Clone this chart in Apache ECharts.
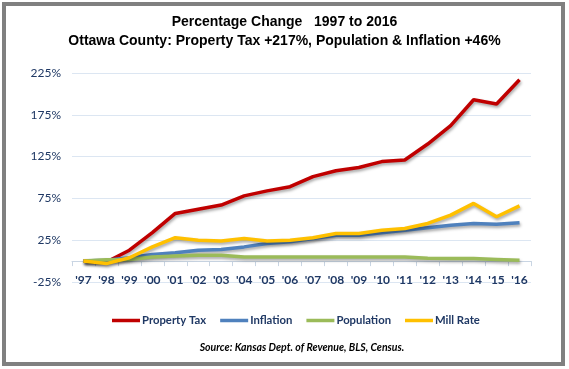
<!DOCTYPE html>
<html>
<head>
<meta charset="utf-8">
<script src="https://cdn.jsdelivr.net/npm/echarts@6/dist/echarts.min.js"></script>
<style>html,body{margin:0;padding:0;background:#fff;}#c{width:569px;height:369px;}</style>
</head>
<body>
<div id="c"></div>
<script>
var years = ["'97","'98","'99","'00","'01","'02","'03","'04","'05","'06","'07","'08","'09","'10","'11","'12","'13","'14","'15","'16"];
var propertyTax = [0, -1, 13, 34, 57, 62, 67, 78, 84, 89, 101, 108, 112, 119, 121, 140, 162, 193, 188, 217];
var inflation   = [0, 1, 4, 8, 10, 13, 14, 17, 21, 23, 27, 31, 31, 34, 37, 40, 43, 45, 44, 46];
var population  = [0, 1.5, 2, 5, 6, 7, 7, 5, 5, 5, 5, 5, 5, 5, 5, 3.5, 3, 3, 2, 1];
var millRate    = [0, -3, 4, 17, 28, 25, 24, 27, 24, 25, 28, 33, 33, 37, 39, 45, 55, 69, 53, 66];
var yTicks = {min: -25, max: 225, step: 50};

var navy = '#1F3864';
var font = 'Lato, "Open Sans", sans-serif';
function mk(name, data, color) {
  return {
    name: name, type: 'line', data: data, symbol: 'none', smooth: false,
    lineStyle: {color: color, width: 3.5, shadowColor: 'rgba(0,0,0,0.35)', shadowBlur: 3, shadowOffsetX: 1, shadowOffsetY: 2},
    itemStyle: {color: color}
  };
}
var chart = echarts.init(document.getElementById('c'), null, {renderer: 'canvas'});
chart.setOption({
  animation: false,
  backgroundColor: '#fff',
  title: [{
    text: 'Percentage Change   1997 to 2016\nOttawa County: Property Tax +217%, Population & Inflation +46%',
    left: 'center', top: 8,
    textStyle: {fontFamily: 'Arial, "Liberation Sans", sans-serif', fontWeight: 'bold', fontSize: 14, color: '#000', lineHeight: 19}
  }, {
    text: 'Source: Kansas Dept. of Revenue, BLS, Census.',
    left: 297, textAlign: 'center', top: 337,
    textStyle: {fontFamily: font, fontStyle: 'italic', fontWeight: 'bold', fontSize: 10.5, color: '#000'}
  }],
  graphic: [{
    type: 'rect', shape: {x: 4, y: 4, width: 559, height: 360},
    style: {fill: 'none', stroke: '#808080', lineWidth: 4}, silent: true
  }],
  legend: {
    top: 310, left: 107, icon: 'rect', itemWidth: 28, itemHeight: 3.5, itemGap: 14,
    textStyle: {fontFamily: font, fontWeight: 'bold', fontSize: 11.3, color: navy, padding: [0,0,0,-3]},
    data: ['Property Tax', 'Inflation', 'Population', 'Mill Rate']
  },
  grid: {left: 72, right: 38, top: 73, bottom: 87, containLabel: false},
  xAxis: {
    type: 'category', data: years, boundaryGap: true,
    axisLine: {onZero: true, lineStyle: {color: '#C9D5E3', width: 1}},
    axisTick: {show: true, alignWithLabel: false, length: 5, lineStyle: {color: '#C9D5E3'}},
    axisLabel: {margin: -8, fontFamily: font, fontWeight: 'bold', fontSize: 12, color: navy, interval: 0}
  },
  yAxis: {
    type: 'value', min: yTicks.min, max: yTicks.max, interval: yTicks.step,
    axisLine: {show: false}, axisTick: {show: false},
    splitLine: {lineStyle: {color: '#DCE6F2', width: 1}},
    axisLabel: {formatter: '{value}%', fontFamily: font, fontSize: 12, color: navy, margin: 11}
  },
  series: [
    mk('Property Tax', propertyTax, '#C00000'),
    mk('Inflation', inflation, '#4F81BD'),
    mk('Population', population, '#9BBB59'),
    mk('Mill Rate', millRate, '#FFC000')
  ]
});
</script>
</body>
</html>
